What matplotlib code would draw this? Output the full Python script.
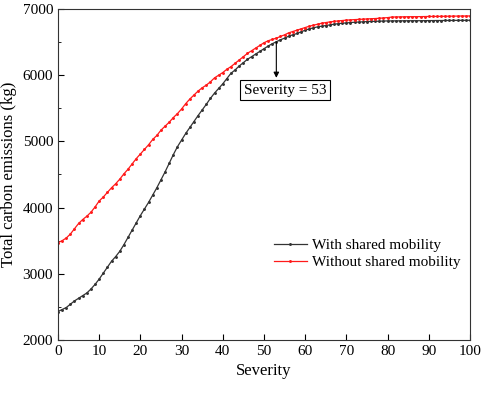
import matplotlib.pyplot as plt
from matplotlib.ticker import MultipleLocator

severity = list(range(101))

with_shared = [
    2430, 2460, 2490, 2540, 2590, 2630, 2670, 2710, 2770, 2840,
    2920, 3010, 3100, 3190, 3260, 3340, 3440, 3550, 3660, 3770,
    3880, 3980, 4080, 4190, 4300, 4420, 4540, 4670, 4800, 4920,
    5020, 5120, 5210, 5300, 5390, 5475, 5560, 5650, 5730, 5800,
    5870, 5950, 6030, 6080, 6140, 6190, 6240, 6280, 6320, 6360,
    6400, 6440, 6475, 6505, 6535, 6560, 6590, 6610, 6630, 6655,
    6680, 6700, 6715, 6730, 6740, 6750, 6760, 6770, 6778, 6785,
    6790, 6795, 6800, 6803, 6806, 6810, 6812, 6814, 6816, 6818,
    6820, 6820, 6821, 6821, 6822, 6822, 6823, 6823, 6823, 6824,
    6825, 6825, 6826, 6826, 6827, 6827, 6828, 6828, 6829, 6829,
    6830,
]

without_shared = [
    3470, 3500, 3540, 3600, 3680, 3760, 3820, 3870, 3930, 4010,
    4100, 4160, 4230, 4300, 4360, 4430, 4510, 4580, 4660, 4740,
    4810, 4880, 4950, 5030, 5090, 5170, 5230, 5290, 5360, 5420,
    5490, 5570, 5640, 5700, 5760, 5810, 5850, 5900, 5960, 6000,
    6040, 6090, 6130, 6180, 6230, 6280, 6330, 6370, 6410, 6450,
    6490, 6520, 6540, 6560, 6585, 6610, 6640, 6660, 6680, 6700,
    6720, 6740, 6755, 6770, 6785, 6795, 6805, 6812, 6820, 6826,
    6832, 6836, 6840, 6843, 6846, 6850, 6853, 6856, 6860, 6865,
    6870, 6878, 6880, 6881, 6882, 6883, 6884, 6884, 6885, 6886,
    6887, 6888, 6888, 6889, 6890, 6891, 6892, 6893, 6894, 6894,
    6895,
]

plt.rcParams['font.family'] = ['Liberation Serif', 'DejaVu Serif']
plt.rcParams['font.size'] = 11

fig = plt.figure(figsize=(4.84, 3.93), dpi=100)
ax = fig.add_axes([0.1198, 0.1349, 0.8512, 0.8422])

ax.plot(severity, with_shared, color='#333333', lw=0.9, marker='o', ms=1.1,
        label='With shared mobility')
ax.plot(severity, without_shared, color='#ff1a1a', lw=0.9, marker='o', ms=1.1,
        label='Without shared mobility')

# arrow + box for the crossing point
ax.annotate('', xy=(53, 5960), xytext=(53, 6505),
            arrowprops=dict(arrowstyle='-|>', color='black', lw=0.8,
                            mutation_scale=8, shrinkA=0, shrinkB=0))
ax.text(55.1, 5775, 'Severity = 53', ha='center', va='center', fontsize=11,
        bbox=dict(boxstyle='square,pad=0.25', fc='white', ec='black', lw=0.8))

ax.set_xlim(0, 100)
ax.set_ylim(2000, 7000)
ax.xaxis.set_major_locator(MultipleLocator(10))
ax.yaxis.set_major_locator(MultipleLocator(1000))
ax.yaxis.set_minor_locator(MultipleLocator(500))
ax.tick_params(direction='in', which='major', length=4, labelsize=11)
ax.tick_params(direction='in', which='minor', length=2.5)
for s in ax.spines.values():
    s.set_color('#333333')

ax.set_xlabel('Severity', fontsize=12)
ax.set_ylabel('Total carbon emissions (kg)', fontsize=12)

ax.legend(loc='center left', bbox_to_anchor=(0.49, 0.26), frameon=False,
          fontsize=11, handlelength=2.2, handletextpad=0.3, labelspacing=0.2)

fig.savefig('out.png', dpi=100)
